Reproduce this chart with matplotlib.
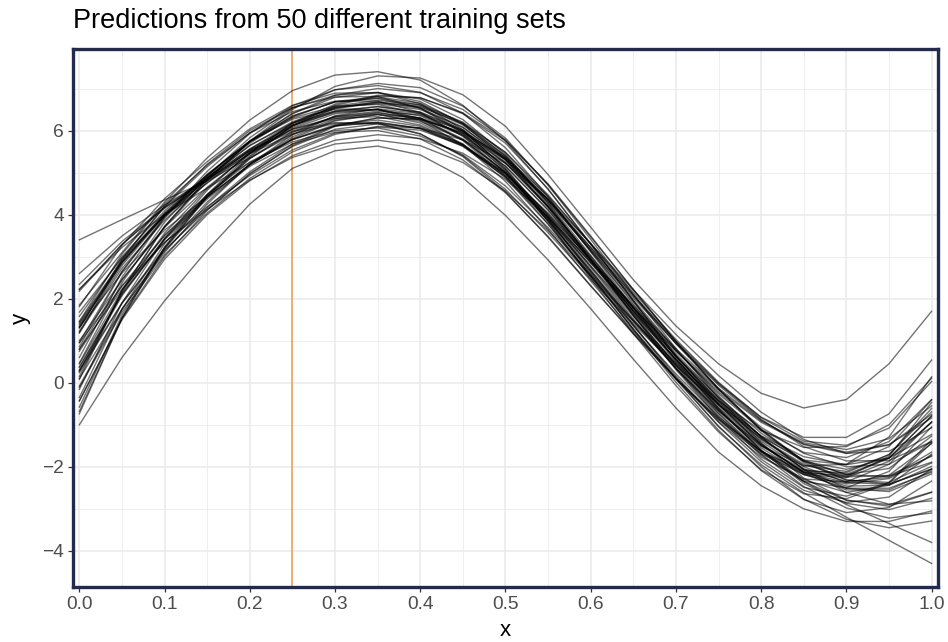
import matplotlib
matplotlib.use("Agg")
from matplotlib import pyplot as plt
from matplotlib.ticker import MultipleLocator

x_grid = [0.00, 0.05, 0.10, 0.15, 0.20, 0.25, 0.30, 0.35, 0.40, 0.45, 0.50,
          0.55, 0.60, 0.65, 0.70, 0.75, 0.80, 0.85, 0.90, 0.95, 1.00]

# one row per training set (50 curves), y read at x_grid
predictions = [
    [0.80, 2.45, 3.70, 4.65, 5.45, 6.05, 6.40, 6.50, 6.35, 5.90, 5.15, 4.10, 2.90, 1.70, 0.55, -0.50, -1.40, -2.05, -2.35, -2.25, -1.65],
    [1.32, 2.84, 4.00, 4.90, 5.70, 6.32, 6.69, 6.80, 6.65, 6.18, 5.40, 4.29, 3.03, 1.76, 0.55, -0.54, -1.47, -2.13, -2.38, -2.20, -1.45],
    [0.38, 2.12, 3.43, 4.41, 5.20, 5.78, 6.11, 6.20, 6.05, 5.62, 4.90, 3.92, 2.78, 1.65, 0.56, -0.46, -1.33, -2.00, -2.37, -2.42, -2.05],
    [1.45, 2.91, 4.04, 4.93, 5.75, 6.40, 6.79, 6.90, 6.75, 6.26, 5.44, 4.27, 2.94, 1.61, 0.34, -0.79, -1.73, -2.35, -2.50, -2.11, -1.05],
    [0.45, 2.20, 3.51, 4.48, 5.25, 5.79, 6.11, 6.19, 6.05, 5.64, 4.96, 4.01, 2.93, 1.84, 0.81, -0.13, -0.91, -1.43, -1.59, -1.33, -0.55],
    [0.27, 2.15, 3.56, 4.62, 5.47, 6.11, 6.52, 6.66, 6.56, 6.17, 5.48, 4.47, 3.30, 2.10, 0.93, -0.15, -1.11, -1.86, -2.31, -2.41, -2.06],
    [1.68, 2.97, 3.97, 4.75, 5.47, 6.03, 6.32, 6.39, 6.18, 5.68, 4.87, 3.77, 2.54, 1.34, 0.21, -0.81, -1.63, -2.14, -2.21, -1.80, -0.79],
    [-0.16, 1.90, 3.43, 4.58, 5.49, 6.16, 6.58, 6.72, 6.61, 6.20, 5.48, 4.40, 3.14, 1.87, 0.64, -0.45, -1.36, -1.97, -2.11, -1.71, -0.61],
    [0.96, 2.65, 3.92, 4.87, 5.65, 6.18, 6.46, 6.50, 6.29, 5.80, 5.02, 4.00, 2.85, 1.71, 0.64, -0.35, -1.20, -1.84, -2.19, -2.23, -1.89],
    [1.58, 3.00, 4.09, 4.95, 5.74, 6.35, 6.68, 6.76, 6.54, 5.99, 5.11, 3.91, 2.58, 1.26, 0.01, -1.13, -2.09, -2.78, -3.09, -2.97, -2.34],
    [-0.43, 1.50, 2.94, 4.00, 4.81, 5.40, 5.77, 5.90, 5.81, 5.46, 4.84, 3.94, 2.88, 1.80, 0.75, -0.22, -1.06, -1.68, -2.00, -1.94, -1.41],
    [1.18, 2.92, 4.21, 5.20, 6.00, 6.55, 6.80, 6.81, 6.53, 5.94, 5.04, 3.84, 2.54, 1.28, 0.10, -0.93, -1.77, -2.29, -2.36, -1.94, -0.93],
    [-0.08, 1.75, 3.14, 4.17, 5.02, 5.68, 6.12, 6.30, 6.27, 5.96, 5.36, 4.44, 3.31, 2.15, 1.03, 0.01, -0.83, -1.39, -1.49, -1.08, 0.03],
    [0.24, 1.89, 3.16, 4.12, 4.96, 5.64, 6.10, 6.30, 6.27, 5.94, 5.31, 4.35, 3.18, 1.97, 0.79, -0.31, -1.29, -2.06, -2.51, -2.59, -2.17],
    [1.46, 3.06, 4.26, 5.18, 5.94, 6.45, 6.70, 6.70, 6.43, 5.86, 4.99, 3.86, 2.64, 1.46, 0.34, -0.68, -1.55, -2.18, -2.51, -2.51, -2.13],
    [0.47, 2.38, 3.82, 4.92, 5.83, 6.53, 6.97, 7.12, 7.02, 6.58, 5.82, 4.70, 3.41, 2.10, 0.81, -0.37, -1.43, -2.27, -2.79, -2.94, -2.61],
    [2.23, 3.22, 4.01, 4.63, 5.24, 5.73, 6.00, 6.06, 5.87, 5.42, 4.68, 3.69, 2.58, 1.48, 0.47, -0.43, -1.14, -1.54, -1.52, -1.00, 0.11],
    [-0.58, 1.61, 3.22, 4.42, 5.34, 5.98, 6.33, 6.43, 6.26, 5.78, 5.00, 3.89, 2.63, 1.37, 0.16, -0.94, -1.88, -2.56, -2.85, -2.72, -2.05],
    [2.18, 3.29, 4.18, 4.88, 5.56, 6.12, 6.47, 6.57, 6.44, 6.02, 5.30, 4.31, 3.16, 2.02, 0.93, -0.06, -0.89, -1.47, -1.68, -1.48, -0.75],
    [0.15, 2.20, 3.72, 4.85, 5.73, 6.34, 6.68, 6.77, 6.61, 6.15, 5.40, 4.34, 3.13, 1.92, 0.77, -0.26, -1.11, -1.66, -1.78, -1.40, -0.40],
    [0.75, 2.31, 3.50, 4.41, 5.19, 5.79, 6.14, 6.25, 6.10, 5.65, 4.90, 3.86, 2.67, 1.49, 0.34, -0.74, -1.70, -2.47, -2.98, -3.22, -3.10],
    [0.29, 2.07, 3.43, 4.47, 5.37, 6.12, 6.60, 6.82, 6.78, 6.40, 5.70, 4.61, 3.30, 1.95, 0.65, -0.51, -1.48, -2.12, -2.24, -1.75, -0.47],
    [1.41, 2.89, 4.00, 4.84, 5.52, 5.98, 6.19, 6.18, 5.92, 5.40, 4.60, 3.57, 2.46, 1.40, 0.40, -0.51, -1.26, -1.76, -1.95, -1.79, -1.23],
    [1.34, 2.86, 4.03, 4.94, 5.75, 6.41, 6.84, 7.00, 6.90, 6.50, 5.78, 4.71, 3.47, 2.21, 0.98, -0.14, -1.12, -1.90, -2.32, -2.37, -1.91],
    [0.36, 2.10, 3.40, 4.37, 5.15, 5.68, 5.96, 6.00, 5.80, 5.30, 4.52, 3.48, 2.31, 1.16, 0.09, -0.87, -1.63, -2.10, -2.14, -1.71, -0.69],
    [0.60, 2.51, 3.94, 5.03, 5.93, 6.59, 6.97, 7.07, 6.91, 6.41, 5.59, 4.43, 3.11, 1.79, 0.52, -0.63, -1.61, -2.31, -2.61, -2.44, -1.70],
    [0.95, 2.30, 3.34, 4.13, 4.82, 5.36, 5.68, 5.77, 5.64, 5.24, 4.56, 3.62, 2.54, 1.46, 0.43, -0.52, -1.33, -1.94, -2.24, -2.21, -1.75],
    [1.32, 2.61, 3.63, 4.43, 5.18, 5.81, 6.23, 6.38, 6.30, 5.92, 5.23, 4.20, 3.01, 1.79, 0.62, -0.42, -1.28, -1.84, -1.95, -1.52, -0.41],
    [0.08, 2.18, 3.72, 4.86, 5.73, 6.30, 6.58, 6.62, 6.40, 5.88, 5.07, 3.98, 2.77, 1.58, 0.45, -0.59, -1.48, -2.13, -2.46, -2.44, -1.99],
    [1.30, 2.95, 4.19, 5.14, 5.95, 6.54, 6.84, 6.91, 6.69, 6.16, 5.32, 4.17, 2.88, 1.61, 0.42, -0.65, -1.51, -2.07, -2.18, -1.79, -0.79],
    [0.80, 2.23, 3.34, 4.19, 4.93, 5.54, 5.94, 6.08, 6.01, 5.64, 4.98, 4.04, 2.93, 1.80, 0.69, -0.35, -1.29, -2.07, -2.61, -2.89, -2.81],
    [1.81, 3.27, 4.38, 5.26, 6.04, 6.60, 6.89, 6.90, 6.64, 6.02, 5.08, 3.83, 2.48, 1.17, -0.07, -1.17, -2.07, -2.64, -2.76, -2.39, -1.43],
    [-0.11, 1.68, 3.04, 4.04, 4.86, 5.49, 5.91, 6.10, 6.06, 5.78, 5.22, 4.37, 3.31, 2.21, 1.15, 0.17, -0.70, -1.35, -1.68, -1.63, -1.07],
    [-0.74, 1.54, 3.23, 4.48, 5.45, 6.18, 6.63, 6.84, 6.78, 6.42, 5.76, 4.73, 3.49, 2.22, 0.98, -0.16, -1.14, -1.87, -2.18, -2.04, -1.27],
    [2.34, 3.36, 4.17, 4.82, 5.45, 5.92, 6.17, 6.16, 5.92, 5.38, 4.54, 3.46, 2.30, 1.18, 0.12, -0.85, -1.64, -2.19, -2.41, -2.28, -1.73],
    [2.60, 3.49, 4.23, 4.84, 5.50, 6.08, 6.45, 6.57, 6.43, 6.00, 5.25, 4.19, 2.99, 1.78, 0.63, -0.41, -1.28, -1.87, -2.06, -1.79, -0.95],
    [2.22, 3.29, 4.15, 4.85, 5.56, 6.18, 6.55, 6.68, 6.53, 6.08, 5.30, 4.20, 2.95, 1.70, 0.49, -0.63, -1.62, -2.40, -2.87, -3.02, -2.75],
    [-0.43, 1.53, 3.00, 4.10, 4.98, 5.62, 6.03, 6.16, 6.06, 5.67, 4.98, 3.95, 2.74, 1.52, 0.35, -0.67, -1.50, -1.98, -1.94, -1.29, 0.14],
    [1.23, 2.79, 3.98, 4.88, 5.64, 6.21, 6.55, 6.64, 6.50, 6.07, 5.35, 4.36, 3.22, 2.08, 0.99, -0.01, -0.87, -1.52, -1.86, -1.85, -1.40],
    [-0.68, 1.54, 3.19, 4.43, 5.40, 6.11, 6.54, 6.68, 6.58, 6.13, 5.37, 4.24, 2.93, 1.60, 0.31, -0.84, -1.82, -2.49, -2.70, -2.37, -1.36],
    [1.38, 2.86, 3.98, 4.82, 5.53, 6.03, 6.29, 6.33, 6.13, 5.67, 4.93, 3.95, 2.85, 1.77, 0.76, -0.17, -0.94, -1.46, -1.65, -1.47, -0.84],
    [0.86, 2.64, 3.96, 4.96, 5.75, 6.27, 6.51, 6.50, 6.24, 5.66, 4.79, 3.65, 2.42, 1.22, 0.10, -0.89, -1.69, -2.18, -2.26, -1.87, -0.93],
    [1.20, 2.72, 3.87, 4.76, 5.54, 6.13, 6.43, 6.50, 6.29, 5.76, 4.92, 3.78, 2.52, 1.27, 0.08, -1.03, -2.00, -2.77, -3.25, -3.45, -3.29],
    [-0.35, 1.75, 3.31, 4.46, 5.33, 5.95, 6.34, 6.46, 6.37, 5.99, 5.33, 4.36, 3.22, 2.06, 0.95, -0.03, -0.82, -1.30, -1.30, -0.74, 0.54],
    [1.85, 3.10, 4.30, 5.35, 6.25, 6.95, 7.32, 7.40, 7.20, 6.60, 5.75, 4.60, 3.30, 1.95, 0.60, -0.60, -1.60, -2.35, -2.80, -2.90, -2.60],
    [1.00, 2.45, 3.70, 4.80, 5.75, 6.50, 7.05, 7.30, 7.25, 6.85, 6.10, 4.95, 3.70, 2.45, 1.35, 0.45, -0.25, -0.60, -0.40, 0.45, 1.70],
    [-1.00, 0.60, 1.95, 3.15, 4.25, 5.10, 5.52, 5.63, 5.42, 4.88, 3.98, 2.92, 1.76, 0.56, -0.60, -1.65, -2.45, -3.00, -3.30, -3.30, -3.05],
    [0.30, 1.90, 3.20, 4.30, 5.20, 5.85, 6.25, 6.38, 6.22, 5.78, 5.00, 3.92, 2.68, 1.38, 0.10, -1.05, -1.95, -2.62, -3.20, -3.75, -4.30],
    [0.10, 1.75, 3.10, 4.25, 5.20, 5.90, 6.35, 6.52, 6.40, 5.98, 5.22, 4.18, 2.95, 1.66, 0.40, -0.72, -1.65, -2.35, -2.90, -3.35, -3.80],
    [3.40, 3.88, 4.35, 4.80, 5.35, 5.90, 6.28, 6.42, 6.30, 5.88, 5.15, 4.12, 2.92, 1.72, 0.55, -0.52, -1.45, -2.15, -2.55, -2.55, -2.10],
]

marked_x = 0.25
x_ticks = [0.0, 0.1, 0.2, 0.3, 0.4, 0.5, 0.6, 0.7, 0.8, 0.9, 1.0]
x_labels = ["0.0", "0.1", "0.2", "0.3", "0.4", "0.5", "0.6", "0.7", "0.8", "0.9", "1.0"]
y_ticks = [-4, -2, 0, 2, 4, 6]
y_labels = ["\u22124", "\u22122", "0", "2", "4", "6"]
title = "Predictions from 50 different training sets"

plt.rcParams["font.family"] = ["Liberation Sans", "DejaVu Sans"]

W, H = 948, 642
fig = plt.figure(figsize=(W / 100, H / 100), dpi=100)
ax = fig.add_axes([73 / W, 1 - 587 / H, 865 / W, 538 / H])

ax.set_xlim(-0.0075, 1.0075)
ax.set_ylim(-4.86, 7.94)

ax.set_axisbelow(True)
ax.xaxis.set_minor_locator(MultipleLocator(0.05))
ax.yaxis.set_minor_locator(MultipleLocator(1))
ax.grid(which="major", color="#ebebeb", linewidth=1.2)
ax.grid(which="minor", color="#ebebeb", linewidth=0.6)

ax.axvline(marked_x, color="#eda257", linewidth=1.2, zorder=1.5)

for ys in predictions:
    ax.plot(x_grid, ys, color="black", alpha=0.55, linewidth=1.0,
            solid_joinstyle="round", zorder=2)

ax.set_xticks(x_ticks)
ax.set_xticklabels(x_labels)
ax.set_yticks(y_ticks)
ax.set_yticklabels(y_labels)
ax.tick_params(which="major", length=3.5, width=0.9, color="#333333",
               labelsize=13.8, labelcolor="#4d4d4d", pad=3)
ax.tick_params(which="minor", length=0)

for spine in ax.spines.values():
    spine.set_color("#232a4b")
    spine.set_linewidth(2.4)

fig.text(73 / W, 1 - 28 / H, title, fontsize=19.5, ha="left", va="baseline")
fig.text(505.5 / W, 1 - 631 / H, "x", fontsize=16, ha="center", va="center")
fig.text(20 / W, 1 - 318 / H, "y", fontsize=16, rotation=90,
         ha="center", va="center")

fig.savefig("out.png", dpi=100)
